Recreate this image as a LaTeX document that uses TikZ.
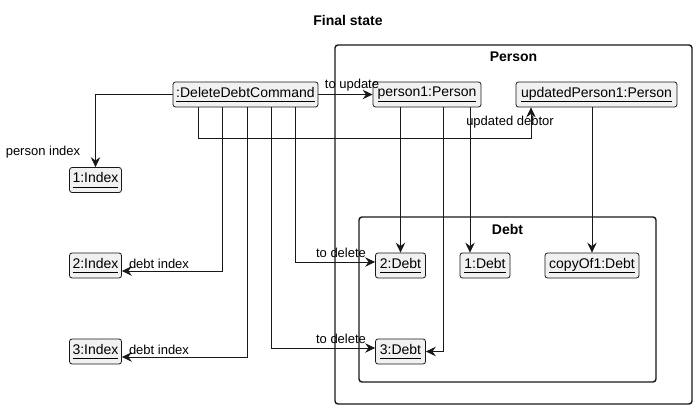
\documentclass[tikz,border=0pt]{standalone}
\usepackage{fontspec}
\setmainfont{Liberation Sans}
\usetikzlibrary{arrows.meta,positioning,calc}
\definecolor{objfill}{HTML}{F1F1F1}
\definecolor{umlline}{HTML}{181818}
\newcommand{\objname}[1]{\underline{\vphantom{py}#1}}
\tikzset{
  >=Stealth,
  every node/.append style={font=\fontsize{14}{16}\selectfont},
}
\tikzset{
  obj/.style={draw=umlline, fill=objfill, rounded corners=2.5pt, line width=0.8pt,
              minimum height=25pt, inner xsep=3pt, inner ysep=0pt},
  arrow/.style={-{Stealth[length=10pt,width=9.5pt,inset=3.5pt]}, draw=umlline, line width=0.8pt},
  pkg/.style={draw=umlline, rounded corners=3pt, line width=1.4pt}
}

\begin{document}
\begin{tikzpicture}[
  x=1pt, y=-1pt,
  lbl/.style  ={font=\fontsize{13}{15}\selectfont, inner sep=0pt},
  ttl/.style  ={font=\fontsize{14}{16}\selectfont\bfseries, inner sep=0pt}
]
\useasboundingbox (0,0) rectangle (697,410);

% Title
\node[ttl] (title) at (348,20) {Final state};

% Packages
\node[pkg, minimum width=357pt, minimum height=359pt] (person) at (513.5,224.5) {};
\node[ttl] (personT) at (513.5,57) {Person};
\node[pkg, minimum width=297pt, minimum height=165pt] (debt) at (507.5,299.5) {};
\node[ttl] (debtT) at (507.5,229) {Debt};

% Command and indices
\node[obj, minimum width=145pt] (cmd) at (245.5,94.5) {\objname{:DeleteDebtCommand}};
\node[obj, minimum width=51pt] (idx1) at (95.5,180) {\objname{1:Index}};
\node[obj, minimum width=51pt] (idx2) at (95.5,265.5) {\objname{2:Index}};
\node[obj, minimum width=51pt] (idx3) at (95.5,351.5) {\objname{3:Index}};

% Persons
\node[obj, minimum width=108pt] (p1) at (427,94.5) {\objname{person1:Person}};
\node[obj, minimum width=161pt] (up1) at (596.5,94.5) {\objname{updatedPerson1:Person}};

% Debts
\node[obj, minimum width=50pt] (d2) at (400.5,265.5) {\objname{2:Debt}};
\node[obj, minimum width=50pt] (d1) at (485,265.5) {\objname{1:Debt}};
\node[obj, minimum width=94pt] (copy) at (592,265.5) {\objname{copyOf1:Debt}};
\node[obj, minimum width=50pt] (d3) at (400.5,351.5) {\objname{3:Debt}};

% Links from the command
\draw[arrow] (cmd.west) -| (idx1.north);
\draw[arrow] (cmd.east) -- (p1.west);
\draw[arrow] ([xshift=-47.5pt]cmd.south) -- ++(0,31) -| ([xshift=-65.5pt]up1.south);
\draw[arrow] ([xshift=-23.5pt]cmd.south) |- ([yshift=-5.5pt]idx2.east);
\draw[arrow] ([xshift=1.5pt]cmd.south) |- ([yshift=-5.5pt]idx3.east);
\draw[arrow] ([xshift=25.5pt]cmd.south) |- ([yshift=3.5pt]d3.west);
\draw[arrow] ([xshift=49.5pt]cmd.south) |- ([yshift=3.5pt]d2.west);

% Links from the persons
\coordinate (p1c) at ([xshift=43pt]p1.south);
\draw[arrow] ([xshift=-26.5pt]p1.south) -- (d2.north);
\draw[arrow] ([xshift=16pt]p1.south) |- (d3.east);
\draw[arrow] (p1c) -- (p1c |- d1.north);
\draw[arrow] (copy.north |- up1.south) -- (copy.north);

% Link labels
\node[lbl] (lPerson) at (43,152) {person index};
\node[lbl] (lUpdate) at (352,85) {to update};
\node[lbl] (lDebtor) at (510,122) {updated debtor};
\node[lbl] (lDel2) at (341,253) {to delete};
\node[lbl] (lDel3) at (341,339) {to delete};
\node[lbl] (lIdx2) at (159,264) {debt index};
\node[lbl] (lIdx3) at (159,350) {debt index};

\end{tikzpicture}
\end{document}
